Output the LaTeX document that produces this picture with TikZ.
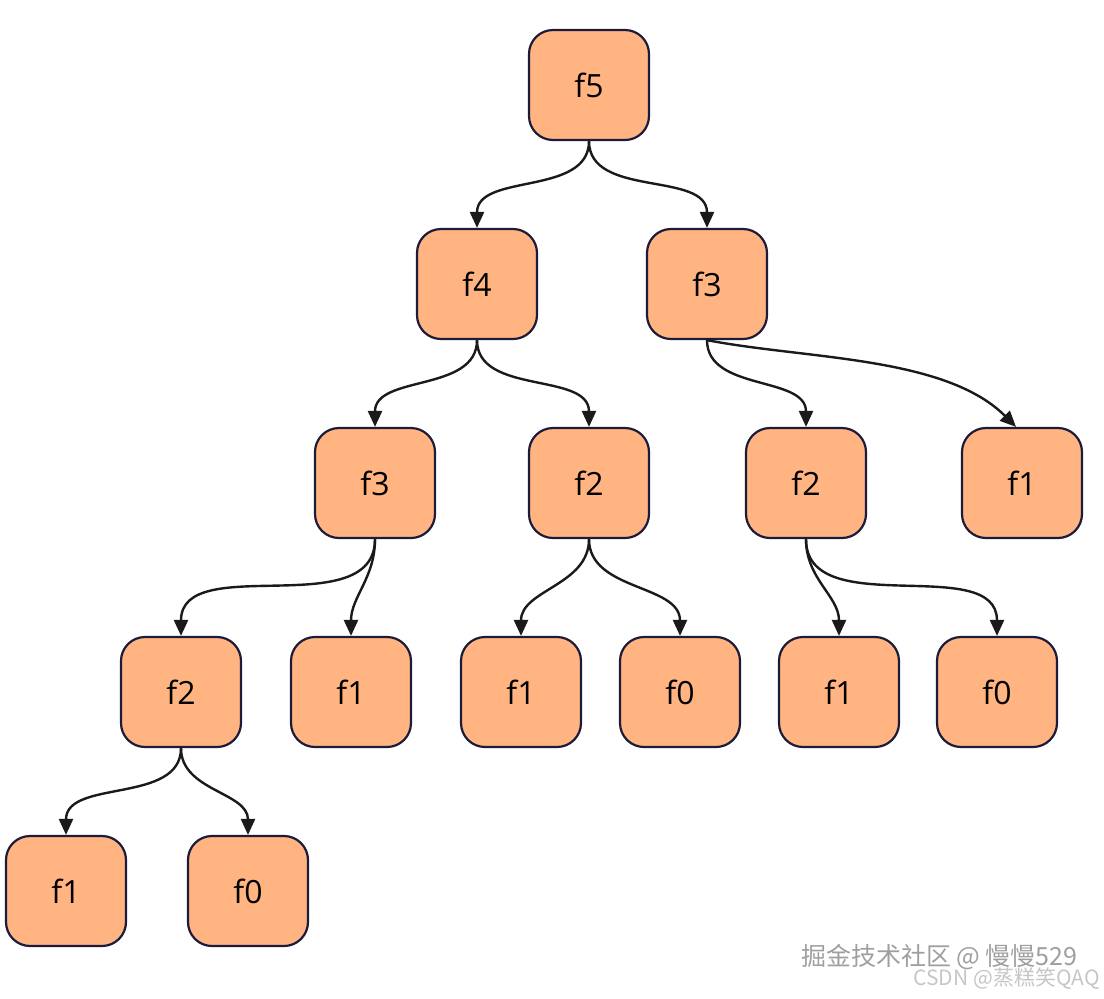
\documentclass[tikz,border=0pt]{standalone}
\usepackage{fontspec}
\setmainfont{Open Sans}
\newfontfamily\cjk{Noto Sans CJK SC}
\usepackage{xcolor}
\usetikzlibrary{arrows.meta}
\definecolor{boxfill}{HTML}{FFB482}
\definecolor{boxline}{HTML}{1C1B3A}
\definecolor{edgeline}{HTML}{1A1A1A}

\begin{document}
\begin{tikzpicture}[x=0.5pt, y=-0.5pt,
    fib/.style={draw=boxline, fill=boxfill, line width=1.1pt, rounded corners=12pt,
        minimum width=60pt, minimum height=55pt, inner sep=0pt,
        font=\fontsize{16}{18}\selectfont},
    call/.style={draw=edgeline, line width=1.2pt, -{Triangle[length=8pt, width=7pt]}},
    mark text/.style={inner sep=0pt, font=\cjk\fontsize{12.5}{15}\selectfont}]
\useasboundingbox (0,0) rectangle (1104,998);
% Call tree nodes
\foreach \name/\x/\y/\lbl in {
    r0/589/85/f5,
    r1a/477/284/f4, r1b/707/284/f3,
    r2a/375/483/f3, r2b/589/483/f2, r2c/806/483/f2, r2d/1022/483/f1,
    r3a/181/692/f2, r3b/351/692/f1, r3c/521/692/f1, r3d/680/692/f0,
    r3e/839/692/f1, r3f/997/692/f0,
    r4a/66/891/f1, r4b/248/891/f0}{
    \node[fib] (\name) at (\x,\y) {\lbl};
}
% Recursive calls
\foreach \a/\b in {r0/r1a, r0/r1b, r1a/r2a, r1a/r2b, r1b/r2c,
    r2a/r3a, r2a/r3b, r2b/r3c, r2b/r3d, r2c/r3e, r2c/r3f,
    r3a/r4a, r3a/r4b}{
    \draw[call] (\a.south) to[out=-90, in=90] (\b.north);
}
\draw[call] (r1b.south) to[out=-11, in=135, looseness=0.8] ([xshift=-3pt]r2d.north);
% Watermarks
\node[mark text, anchor=east, text=gray!75] (juejin) at (1078,957) {掘金技术社区 @ 慢慢529};
\node[mark text, anchor=east, text=gray!45, font=\cjk\fontsize{10.5}{12}\selectfont] (csdn) at (1100,979) {CSDN @蒸糕笑QAQ};
\end{tikzpicture}
\end{document}
